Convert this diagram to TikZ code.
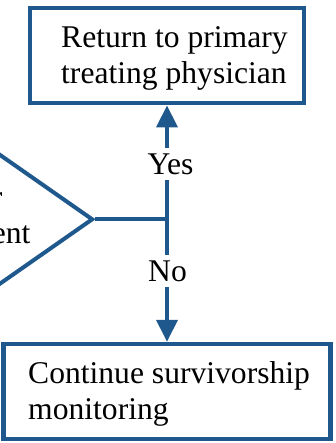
\documentclass[tikz,border=0pt]{standalone}
\usepackage{fontspec}
\setmainfont{Liberation Serif}
\usetikzlibrary{arrows.meta,shapes.geometric}
\definecolor{flowblue}{RGB}{30,88,140}
\begin{document}
\begin{tikzpicture}[x=1pt,y=-1pt,
  every node/.style={font=\fontsize{31.6}{36}\selectfont},
  boxnode/.style={draw=flowblue, line width=4.5pt, inner sep=0pt},
  decision/.style={diamond, draw=flowblue, line width=4pt, inner sep=0pt},
  txt/.style={inner sep=0pt},
  link/.style={draw=flowblue, line width=4pt},
  arr/.style={link, -{Triangle[length=22pt,width=21pt]}},
  lbl/.style={fill=white, inner xsep=2pt, inner ysep=5.5pt}]
\useasboundingbox (0,0) rectangle (336,443);
% decision (mostly outside the frame)
\node[decision, minimum width=300pt, minimum height=210pt] (q) at (-57,219.3) {};
\node[txt, align=center] (qtext) at (-59.5,218.5)
  {\strut Signs of\\\strut relapse or\\\strut new treatment\\\strut required?};
% boxes
\node[boxnode, minimum width=274pt, minimum height=95pt] (ret) at (167,55.7) {};
\node[txt, align=left, anchor=west] (rettext) at (61,58.5)
  {\strut Return to primary\\\strut treating physician};
\node[boxnode, minimum width=327pt, minimum height=95pt] (cont) at (167,391.5) {};
\node[txt, align=left, anchor=west] (conttext) at (28,394.3)
  {\strut Continue survivorship\\\strut monitoring};
% connectors
\coordinate (j) at (167,219.3);
\draw[link] (q.east) -- (j);
\draw[arr] (j) -- (ret.south);
\draw[arr] (j) -- (cont.north);
\node[lbl] (yes) at (170.5,164) {Yes};
\node[lbl] (no) at (167.5,271) {No};
\end{tikzpicture}
\end{document}
